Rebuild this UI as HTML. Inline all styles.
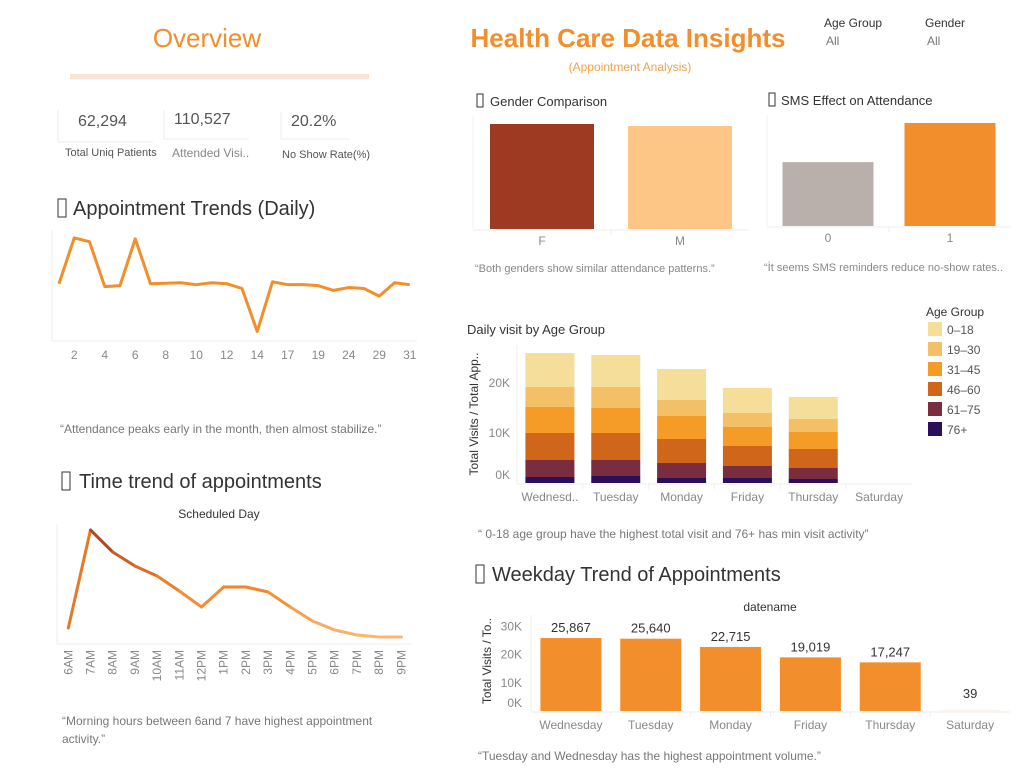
<!DOCTYPE html>
<html><head><meta charset="utf-8">
<style>
html,body{margin:0;padding:0;background:#fff;}
body{width:1023px;height:767px;overflow:hidden;font-family:"Liberation Sans",sans-serif;}
svg text{font-family:"Liberation Sans",sans-serif;}
</style></head>
<body>
<svg id="dash" width="1023" height="767" viewBox="0 0 1023 767" xmlns="http://www.w3.org/2000/svg">
  <!-- Header -->
  <text x="207" y="47" text-anchor="middle" font-size="26" fill="#f28e2b">Overview</text>
  <rect x="70" y="74" width="299" height="5" fill="#fbe3d3"/>
  <text x="628" y="47" text-anchor="middle" font-size="26" font-weight="bold" fill="#f28e2b">Health Care Data Insights</text>
  <text x="630" y="71" text-anchor="middle" font-size="12" fill="#f5a04a">(Appointment Analysis)</text>

  <g>
    <text x="824" y="27" font-size="12" fill="#333">Age Group</text>
    <text x="826" y="45" font-size="12" fill="#777">All</text>
  </g>
  <g>
    <text x="925" y="27" font-size="12" fill="#333">Gender</text>
    <text x="927" y="45" font-size="12" fill="#777">All</text>
  </g>

  <!-- KPIs -->
  <g>
    <line x1="58" y1="110" x2="58" y2="142" stroke="#eee"/>
    <line x1="58" y1="142" x2="153" y2="142" stroke="#eee"/>
    <text x="78" y="126" font-size="16" fill="#555">62,294</text>
    <text x="65" y="156" font-size="11" fill="#555">Total Uniq Patients</text>
  </g>
  <g>
    <line x1="164" y1="110" x2="164" y2="139" stroke="#eee"/>
    <line x1="164" y1="139" x2="249" y2="139" stroke="#eee"/>
    <text x="174" y="124" font-size="16" fill="#555">110,527</text>
    <text x="172" y="157" font-size="12" fill="#888">Attended Visi..</text>
  </g>
  <g>
    <line x1="281" y1="112" x2="281" y2="139" stroke="#eee"/>
    <line x1="281" y1="139" x2="350" y2="139" stroke="#eee"/>
    <text x="291" y="126" font-size="16" fill="#555">20.2%</text>
    <text x="282" y="158" font-size="11" fill="#555">No Show Rate(%)</text>
  </g>

  <!-- Section titles -->
  <g>
    <rect x="58" y="199" width="8" height="18" fill="none" stroke="#333"/>
    <text x="73" y="215" font-size="20" fill="#333">Appointment Trends (Daily)</text>
  </g>
  <g>
    <rect x="62" y="472" width="8" height="18" fill="none" stroke="#333"/>
    <text x="79" y="488" font-size="20" fill="#333">Time trend of appointments</text>
  </g>
  <text x="219" y="518" text-anchor="middle" font-size="12" fill="#333">Scheduled Day</text>
  <g>
    <rect x="476" y="565" width="8" height="18" fill="none" stroke="#333"/>
    <text x="492" y="581" font-size="20" fill="#333">Weekday Trend of Appointments</text>
  </g>
  <text x="770" y="611" text-anchor="middle" font-size="12" fill="#333">datename</text>
  <g>
    <rect x="477" y="94" width="6" height="13" fill="none" stroke="#333"/>
    <text x="490" y="106" font-size="13" fill="#333">Gender Comparison</text>
  </g>
  <g>
    <rect x="769" y="93" width="6" height="13" fill="none" stroke="#333"/>
    <text x="781" y="105" font-size="13" fill="#333">SMS Effect on Attendance</text>
  </g>
  <text x="467" y="334" font-size="13" fill="#333">Daily visit by Age Group</text>

  <!-- captions -->
  <text x="60" y="433" font-size="12" fill="#777">“Attendance peaks early in the month, then almost stabilize.”</text>
  <text x="62" y="725" font-size="12" fill="#777">“Morning hours between 6and 7 have highest appointment</text>
  <text x="62" y="743" font-size="12" fill="#777">activity.”</text>
  <text x="475" y="272" font-size="11" fill="#888">“Both genders show similar attendance patterns.”</text>
  <text x="764" y="271" font-size="11" fill="#888">“İt seems SMS reminders reduce no-show rates..</text>
  <text x="478" y="538" font-size="12" fill="#777">“ 0-18 age group have the highest total visit and 76+ has min visit activity”</text>
  <text x="478" y="760" font-size="12" fill="#777">“Tuesday and Wednesday has the highest appointment volume.”</text>

  <!-- Age legend -->
  <text x="926" y="316" font-size="12" fill="#333">Age Group</text>
  <g id="ageLegend"></g>

  <g id="dailyChart"></g>
  <g id="timeChart"></g>
  <g id="genderChart"></g>
  <g id="smsChart"></g>
  <g id="ageChart"></g>
  <g id="weekdayChart"></g>
</svg>
<script>
// ---- data ----
const dailyDays = [1,2,3,4,5,6,7,8,9,10,11,12,13,14,16,17,18,19,20,24,25,29,30,31];
const dailyShown = [2,4,6,8,10,12,14,17,19,24,29,31];
const dailyCounts = [4200,5160,5080,4140,4160,5140,4200,4210,4220,4180,4220,4200,4100,3200,4240,4180,4180,4160,4060,4120,4100,3940,4220,4180];
const hourLabels = ['6AM','7AM','8AM','9AM','10AM','11AM','12PM','1PM','2PM','3PM','4PM','5PM','6PM','7PM','8PM','9PM'];
const hourCounts = [1600,11400,9200,7800,6800,5300,3700,5700,5700,5200,3700,2300,1400,900,700,700];
const genderCats = ['F','M'];
const genderVals = [71800,70400];
const smsCats = ['0','1'];
const smsVals = [62000,100000];
const ageDays = ['Wednesd..','Tuesday','Monday','Friday','Thursday','Saturday'];
const ageGroups = ['76+','61–75','46–60','31–45','19–30','0–18'];
const age76 = [1.2,1.4,1.0,1.0,0.8,0];
const age61 = [3.4,3.2,3.0,2.4,2.2,0];
const age46 = [5.4,5.4,4.8,4.0,3.8,0];
const age31 = [5.2,5.0,4.6,3.8,3.4,0];
const age19 = [4.0,4.2,3.2,2.8,2.6,0];
const age0 = [6.8,6.4,6.2,5.0,4.4,0];
const ageTicks = [0,10,20];
const weekDays = ['Wednesday','Tuesday','Monday','Friday','Thursday','Saturday'];
const weekVals = [25867,25640,22715,19019,17247,39];
const weekTicks = [0,10000,20000,30000];

const NS='http://www.w3.org/2000/svg';
function mk(parent,tag,attrs,text){const e=document.createElementNS(NS,tag);for(const k in attrs)e.setAttribute(k,attrs[k]);if(text!==undefined)e.textContent=text;parent.appendChild(e);return e;}
function lin(d0,d1,r0,r1){return v=>r0+(v-d0)/(d1-d0)*(r1-r0);}
function fmt(n){return n.toString().replace(/\B(?=(\d{3})+(?!\d))/g,',');}

// ---- daily line ----
(function(){
  const g=document.getElementById('dailyChart');
  const x=i=>59+i*15.25, y=lin(3000,5200,341,236);
  mk(g,'line',{x1:52,y1:230,x2:52,y2:341,stroke:'#eee'});
  mk(g,'line',{x1:52,y1:341,x2:417,y2:341,stroke:'#eee'});
  let d='';
  dailyDays.forEach((v,i)=>{d+=(i?'L':'M')+x(i)+' '+y(dailyCounts[i]);});
  const p=mk(g,'path',{d:d,fill:'none',stroke:'#f28e2b','stroke-width':3,'stroke-linejoin':'round'});
  
  
  dailyDays.forEach((dd,i)=>{
    if(dailyShown.indexOf(dd)>=0){
      const t=mk(g,'text',{x:x(i),y:359,'text-anchor':'middle','font-size':12,fill:'#888'},String(dd));
      
      
    }
  });
})();

// ---- time trend ----
(function(){
  const g=document.getElementById('timeChart');
  const x=i=>68.3+i*22.2, y=lin(0,12000,644,524);
  mk(g,'line',{x1:57,y1:524,x2:57,y2:644,stroke:'#eee'});
  mk(g,'line',{x1:57,y1:644,x2:412,y2:644,stroke:'#eee'});
  const mx=Math.max(...hourCounts);
  function col(v){const t=Math.min(1,v/mx);
    const a=[253,190,120],b=[242,131,40],c=[160,60,32];
    let r; if(t<0.5){const u=t/0.5;r=a.map((q,k)=>q+(b[k]-q)*u);}else{const u=(t-0.5)/0.5;r=b.map((q,k)=>q+(c[k]-q)*u);}
    return 'rgb('+r.map(Math.round).join(',')+')';}
  for(let i=0;i<hourCounts.length-1;i++){
    const s=mk(g,'line',{x1:x(i),y1:y(hourCounts[i]),x2:x(i+1),y2:y(hourCounts[i+1]),stroke:col((hourCounts[i]+hourCounts[i+1])/2),'stroke-width':3,'stroke-linecap':'round'});
    
    
  }
  hourLabels.forEach((h,i)=>{
    const t=mk(g,'text',{x:0,y:0,'text-anchor':'end','font-size':12,fill:'#888',transform:'translate('+(x(i)+4)+',650) rotate(-90)'},h);
    
    
  });
})();

// ---- simple bar helper ----
function simpleBars(id,cats,vals,cols,x0,x1,base,top,maxv,bw,nameP){
  const g=document.getElementById(id);
  const band=(x1-x0)/cats.length, y=lin(0,maxv,base,top);
  mk(g,'line',{x1:x0,y1:base+1,x2:x1,y2:base+1,stroke:'#eee'});
  mk(g,'line',{x1:x0,y1:top-8,x2:x0,y2:base,stroke:'#f2f2f2'});
  cats.forEach((c,i)=>{
    const cx=x0+band*(i+0.5);
    const r=mk(g,'rect',{x:cx-bw/2,y:y(vals[i]),width:bw,height:base-y(vals[i]),fill:cols[i]});
    
    
    if(i>0)mk(g,'line',{x1:x0+band*i,y1:base+1,x2:x0+band*i,y2:base+6,stroke:'#eee'});
    const t=mk(g,'text',{x:cx,y:base+16,'text-anchor':'middle','font-size':12,fill:'#888'},c);
    
    
  });
}
simpleBars('genderChart',genderCats,genderVals,['#9e3a22','#fdc586'],473,749,229,124,71800,104,'gender');
simpleBars('smsChart',smsCats,smsVals,['#b9b0ab','#f28e2b'],767,1011,226,123,100000,91,'sms');

// ---- stacked age chart ----
(function(){
  const g=document.getElementById('ageChart');
  const x0=517,x1=912,band=(x1-x0)/ageDays.length,base=483,y=lin(0,20,base,383),bw=49;
  const series=[age76,age61,age46,age31,age19,age0];
  const cols=['#2c0f5a','#7a2d3f','#d06619','#f59b28','#f4c067','#f5dd9a'];
  mk(g,'line',{x1:x0,y1:base+1,x2:x1,y2:base+1,stroke:'#eee'});
  mk(g,'line',{x1:x0,y1:345,x2:x0,y2:base,stroke:'#eee'});
  ageTicks.forEach(t=>{
    const yy=Math.min(y(t)+4,base-4);
    const tx=mk(g,'text',{x:510,y:yy,'text-anchor':'end','font-size':12,fill:'#888'},t+'K');
    
    
  });
  const at=mk(g,'text',{x:0,y:0,'text-anchor':'middle','font-size':12,fill:'#333',transform:'translate(478,414) rotate(-90)'},'Total Visits / Total App..');
  
  
  ageDays.forEach((d,i)=>{
    const cx=x0+band*(i+0.5);let cum=0;
    series.forEach((s,k)=>{
      if(s[i]>0){
        const r=mk(g,'rect',{x:cx-bw/2,y:y(cum+s[i]),width:bw,height:y(cum)-y(cum+s[i]),fill:cols[k]});
        
        
      }
      cum+=s[i];
    });
    if(i>0)mk(g,'line',{x1:x0+band*i,y1:base+1,x2:x0+band*i,y2:base+6,stroke:'#eee'});
    const t=mk(g,'text',{x:cx,y:501,'text-anchor':'middle','font-size':12,fill:'#888'},d);
    
    
  });
  const lg=document.getElementById('ageLegend');
  const order=[5,4,3,2,1,0];
  order.forEach((k,j)=>{
    const yy=322+j*20;
    const r=mk(lg,'rect',{x:928,y:yy,width:14,height:14,fill:cols[k]});
    
    
    const t=mk(lg,'text',{x:947,y:yy+12,'font-size':12,fill:'#555'},ageGroups[k]);
    
    
  });
})();

// ---- weekday bars ----
(function(){
  const g=document.getElementById('weekdayChart');
  const x0=531,x1=1010,band=(x1-x0)/weekDays.length,base=711,y=lin(0,30000,base,626.4),bw=61;
  mk(g,'line',{x1:x0,y1:base+1,x2:x1,y2:base+1,stroke:'#eee'});
  mk(g,'line',{x1:x0,y1:615,x2:x0,y2:base,stroke:'#eee'});
  weekTicks.forEach(t=>{
    const yy=Math.min(y(t)+4,base-4);
    const tx=mk(g,'text',{x:522,y:yy,'text-anchor':'end','font-size':12,fill:'#888'},(t/1000)+'K');
    
    
  });
  const at=mk(g,'text',{x:0,y:0,'text-anchor':'middle','font-size':12,fill:'#333',transform:'translate(491,661) rotate(-90)'},'Total Visits / To..');
  
  
  weekDays.forEach((d,i)=>{
    const cx=x0+band*(i+0.5);
    const r=mk(g,'rect',{x:cx-bw/2,y:y(weekVals[i]),width:bw,height:base-y(weekVals[i]),fill:'#f28e2b'});
    
    
    const lv=mk(g,'text',{x:cx,y:Math.min(y(weekVals[i]),base-7)-6,'text-anchor':'middle','font-size':13,fill:'#333'},fmt(weekVals[i]));
    
    
    if(i>0)mk(g,'line',{x1:x0+band*i,y1:base+1,x2:x0+band*i,y2:base+6,stroke:'#eee'});
    const t=mk(g,'text',{x:cx,y:729,'text-anchor':'middle','font-size':12,fill:'#888'},d);
    
    
  });
})();
</script>
</body></html>
